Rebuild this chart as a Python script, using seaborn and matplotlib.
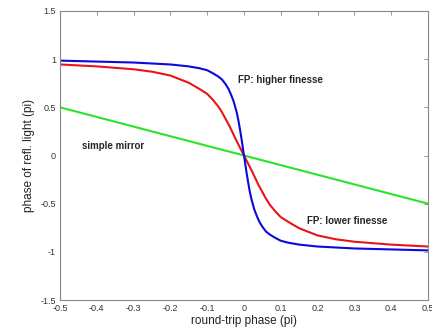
import numpy as np
import pandas as pd
import matplotlib
matplotlib.use("Agg")
import matplotlib.pyplot as plt
import seaborn as sns

# Data
blue_x = [-0.5, -0.4, -0.3, -0.2, -0.15, -0.12, -0.1, -0.085, -0.07, -0.06, -0.05, -0.042, -0.035,
          -0.028, -0.02, -0.015, -0.01, -0.005, 0,
          0.005, 0.01, 0.015, 0.02, 0.028, 0.035, 0.042, 0.05, 0.06, 0.07, 0.085, 0.1, 0.12, 0.15,
          0.2, 0.3, 0.4, 0.5]
blue_y = [0.985, 0.975, 0.965, 0.945, 0.925, 0.905, 0.885, 0.855, 0.82, 0.79, 0.74, 0.69, 0.63,
          0.56, 0.45, 0.36, 0.25, 0.13, 0,
          -0.13, -0.25, -0.36, -0.45, -0.56, -0.63, -0.69, -0.74, -0.79, -0.82, -0.855, -0.885, -0.905, -0.925,
          -0.945, -0.965, -0.975, -0.985]

red_x = [-0.5, -0.4, -0.3, -0.25, -0.2, -0.15, -0.125, -0.1, -0.085, -0.07, -0.06, -0.05, -0.04,
         -0.03, -0.02, -0.01, 0,
         0.01, 0.02, 0.03, 0.04, 0.05, 0.06, 0.07, 0.085, 0.1, 0.125, 0.15, 0.2, 0.25, 0.3, 0.4, 0.5]
red_y = [0.945, 0.925, 0.895, 0.87, 0.83, 0.755, 0.70, 0.64, 0.58, 0.51, 0.45, 0.38, 0.31,
         0.23, 0.15, 0.075, 0,
         -0.075, -0.15, -0.23, -0.31, -0.38, -0.45, -0.51, -0.58, -0.64, -0.70, -0.755, -0.83, -0.87, -0.895,
         -0.925, -0.945]

green_x = [-0.5, 0.5]
green_y = [0.5, -0.5]

x_ticks = [-0.5, -0.4, -0.3, -0.2, -0.1, 0, 0.1, 0.2, 0.3, 0.4, 0.5]
x_tick_labels = ["-0.5", "-0.4", "-0.3", "-0.2", "-0.1", "0", "0.1", "0.2", "0.3", "0.4", "0.5"]
y_ticks = [-1.5, -1, -0.5, 0, 0.5, 1, 1.5]
y_tick_labels = ["-1.5", "-1", "-0.5", "0", "0.5", "1", "1.5"]

sns.set_style("white")
plt.rcParams['font.family'] = ['Liberation Sans', 'DejaVu Sans']

fig = plt.figure(figsize=(4.32, 3.30), dpi=100)
ax = fig.add_axes([60/432, 30/330, 368/432, 289/330])

lw = 1.5
sns.lineplot(x=green_x, y=green_y, ax=ax, color="#2ae32a", linewidth=lw, sort=False)
sns.lineplot(x=red_x, y=red_y, ax=ax, color="#e8141a", linewidth=lw, sort=False)
sns.lineplot(x=blue_x, y=blue_y, ax=ax, color="#0a0add", linewidth=lw, sort=False)

ax.set_xlim(-0.5, 0.5)
ax.set_ylim(-1.5, 1.5)
ax.set_xticks(x_ticks)
ax.set_xticklabels(x_tick_labels)
ax.set_yticks(y_ticks)
ax.set_yticklabels(y_tick_labels)

for s in ax.spines.values():
    s.set_visible(True)
    s.set_color("#888888")
    s.set_linewidth(0.8)
ax.tick_params(direction="in", length=3, width=0.6, color="#888888",
               labelsize=6.5, labelcolor="#333333", top=True, right=True, pad=3)

ax.set_xlabel("round-trip phase (pi)", fontsize=8.5, color="#222222", labelpad=1)
ax.set_ylabel("phase of refl. light (pi)", fontsize=8.5, color="#222222", labelpad=4)

ax.text(-0.015, 0.78, "FP: higher finesse", fontsize=7, fontweight="bold", va="center", ha="left")
ax.text(-0.44, 0.1, "simple mirror", fontsize=7, fontweight="bold", va="center", ha="left")
ax.text(0.17, -0.68, "FP: lower finesse", fontsize=7, fontweight="bold", va="center", ha="left")

fig.savefig("out.png", dpi=100)
